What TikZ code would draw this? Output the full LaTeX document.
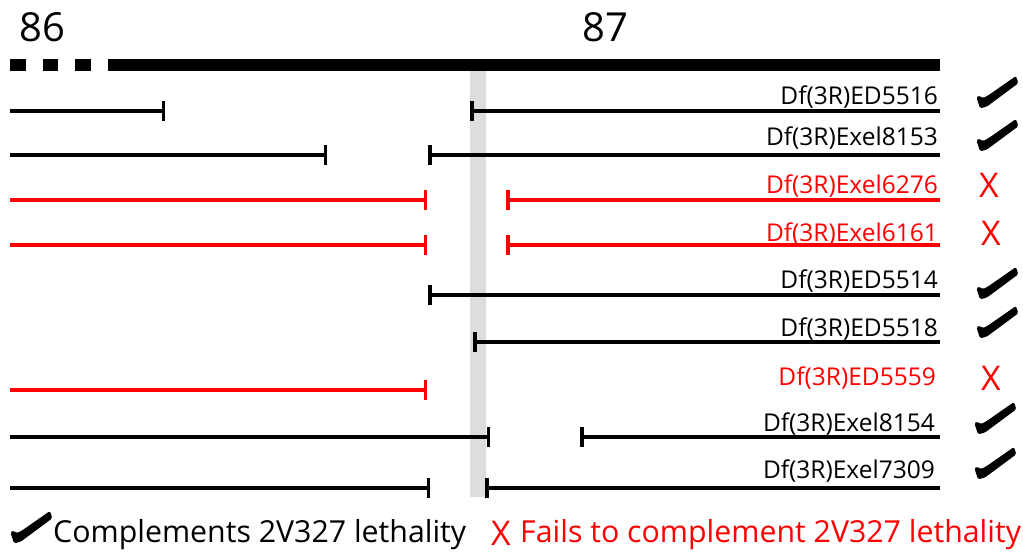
\documentclass[tikz,border=0pt]{standalone}
\usepackage{fontspec}
\setmainfont{Open Sans}
\usetikzlibrary{arrows.meta}
\definecolor{fred}{RGB}{255,0,0}
\definecolor{band}{RGB}{221,221,221}
\tikzset{
  seg/.style={line width=3.5pt},
  rbar/.style={-{Bar[width=20pt,line width=3.5pt]}},
  lbar/.style={{Bar[width=20pt,line width=3.5pt]}-},
  lab/.style={font=\fontsize{24.5}{28}\selectfont, anchor=base east, inner sep=0pt},
  xm/.style={font=\fontsize{34}{38}\selectfont, text=fred, inner sep=0pt},
  legtext/.style={font=\fontsize{30.3}{34}\selectfont, anchor=base west, inner sep=0pt},
  pics/okmark/.style={code={
    \fill[rounded corners=1.5pt] (-20.5,5.5) -- (-17,16.3) -- (-10.3,14.7) -- (21.3,-8.7)
      -- (19,-16) -- (-9,3.5) -- (-14,6) -- (-18.7,3.5) -- cycle;
  }}
}
\begin{document}
\begin{tikzpicture}[x=1pt,y=-1pt]
\useasboundingbox (0,0) rectangle (1023,554);
% gray band
\fill[band] (470,71) rectangle (486,497);
% scale bar
\node[font=\fontsize{40}{44}\selectfont, inner sep=0pt] (n86) at (42,27) {86};
\node[font=\fontsize{40}{44}\selectfont, inner sep=0pt] (n87) at (605,27) {87};
\draw[line width=12pt, dash pattern=on 15.5pt off 17pt] (10,65) -- (91,65);
\draw[line width=12pt] (108,65) -- (940,65);
% row coordinates
\foreach \n/\y in {1/111,2/155,3/200,4/245,5/295,6/342,7/390,8/437,9/488}{
  \coordinate (L\n) at (10,\y);
  \coordinate (R\n) at (940,\y);
}
\coordinate (a1) at (165,111); \coordinate (b1) at (470,111);
\coordinate (a2) at (327,155); \coordinate (b2) at (428,155);
\coordinate (a3) at (427,200); \coordinate (b3) at (506,200);
\coordinate (a4) at (427,245); \coordinate (b4) at (506,245);
\coordinate (b5) at (428,295);
\coordinate (b6) at (473,342);
\coordinate (a7) at (427,390);
\coordinate (a8) at (490,437); \coordinate (b8) at (580,437);
\coordinate (a9) at (430,488); \coordinate (b9) at (485,488);
% segments
\draw[seg,rbar] (L1) -- (a1); \draw[seg,lbar] (b1) -- (R1);
\draw[seg,rbar] (L2) -- (a2); \draw[seg,lbar] (b2) -- (R2);
\draw[seg,rbar,fred] (L3) -- (a3); \draw[seg,lbar,fred] (b3) -- (R3);
\draw[seg,rbar,fred] (L4) -- (a4); \draw[seg,lbar,fred] (b4) -- (R4);
\draw[seg,lbar] (b5) -- (R5);
\draw[seg,lbar] (b6) -- (R6);
\draw[seg,rbar,fred] (L7) -- (a7);
\draw[seg,rbar] (L8) -- (a8); \draw[seg,lbar] (b8) -- (R8);
\draw[seg,rbar] (L9) -- (a9); \draw[seg,lbar] (b9) -- (R9);
% labels
\node[lab] (t1) at (938,104) {Df(3R)ED5516};
\node[lab] (t2) at (938,145) {Df(3R)Exel8153};
\node[lab,text=fred] (t3) at (938,193) {Df(3R)Exel6276};
\node[lab,text=fred] (t4) at (938,241) {Df(3R)Exel6161};
\node[lab] (t5) at (938,288) {Df(3R)ED5514};
\node[lab] (t6) at (938,336) {Df(3R)ED5518};
\node[lab,text=fred] (t7) at (936,385) {Df(3R)ED5559};
\node[lab] (t8) at (935,431) {Df(3R)Exel8154};
\node[lab] (t9) at (935,478) {Df(3R)Exel7309};
% marks
\pic at (997,92) {okmark};
\pic at (997,135) {okmark};
\node[xm] (x3) at (989,185) {X};
\node[xm] (x4) at (991,233) {X};
\pic at (997,283) {okmark};
\pic at (997,322) {okmark};
\node[xm] (x7) at (991,378) {X};
\pic at (995,418) {okmark};
\pic at (995,463) {okmark};
% legend
\pic at (31,527) {okmark};
\node[legtext] (leg1) at (53,542) {Complements 2V327 lethality};
\node[xm, anchor=base west] (legx) at (491,545) {X};
\node[legtext, text=fred] (leg2) at (520,542) {Fails to complement 2V327 lethality};
\end{tikzpicture}
\end{document}
